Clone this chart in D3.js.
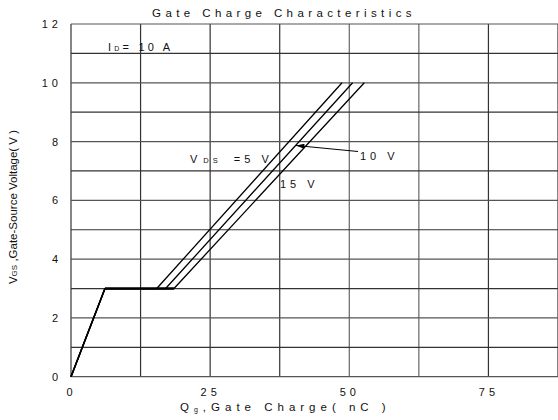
<!DOCTYPE html>
<html>
<head>
<meta charset="utf-8">
<script src="https://cdn.jsdelivr.net/npm/d3@7"></script>
<style>
  body { margin: 0; background: #fff; }
  text { font-family: "Liberation Sans", Arial, sans-serif; fill: #111; }
</style>
</head>
<body>
<div id="chart"></div>
<script>
// data (Qg in nC, VGS in V)
var xTicks = [0, 25, 50, 75];
var yTicks = [0, 2, 4, 6, 8, 10, 12];
var seriesNames = ["5V", "10V", "15V"];
var riseQ = [0, 6.1];
var riseV = [0, 3];
var plateauEndQ = [15.4, 17.0, 18.5];
var topQ = [48.7, 50.6, 52.7];
var topV = 10;

var svgWidth = 558, svgHeight = 420;
var svg = d3.select("#chart").append("svg")
  .attr("width", svgWidth)
  .attr("height", svgHeight);

var x = d3.scaleLinear().domain([0, 87.5]).range([71, 558]);
var y = d3.scaleLinear().domain([0, 12]).range([376.7, 24]);

// grid
var grid = svg.append("g");
grid.selectAll("line.v")
  .data(d3.range(0, 88, 12.5))
  .enter().append("line")
  .attr("x1", d => x(d)).attr("x2", d => x(d))
  .attr("y1", y(0)).attr("y2", y(12))
  .attr("stroke", (d, i) => (i == 4 || i == 5) ? "#666" : "#333")
  .attr("stroke-width", 1.2);
grid.selectAll("line.h")
  .data(d3.range(0, 13, 1))
  .enter().append("line")
  .attr("x1", x(0)).attr("x2", x(87.5))
  .attr("y1", d => y(d)).attr("y2", d => y(d))
  .attr("stroke", d => d % 2 == 0 ? "#555" : "#333")
  .attr("stroke-width", 1.2);

// axes (labels only)
var xAxis = svg.append("g")
  .attr("transform", `translate(0, ${y(0)})`)
  .call(d3.axisBottom(x).tickValues(xTicks).tickSize(0).tickPadding(12));
var yAxis = svg.append("g")
  .attr("transform", `translate(${x(0)}, 0)`)
  .call(d3.axisLeft(y).tickValues(yTicks).tickSize(0).tickPadding(9));
[xAxis, yAxis].forEach(function(a) {
  a.select(".domain").remove();
  a.selectAll("text")
    .attr("font-family", "Liberation Sans, Arial, sans-serif")
    .attr("font-size", 11)
    .attr("fill", "#111")
    .style("letter-spacing", "4px");
});

// curves
var line = d3.line().x(d => x(d[0])).y(d => y(d[1]));
seriesNames.forEach(function(name, i) {
  var pts = [[riseQ[0], riseV[0]], [riseQ[1], riseV[1]], [plateauEndQ[i], riseV[1]], [topQ[i], topV]];
  svg.append("path")
    .attr("d", line(pts))
    .attr("fill", "none")
    .attr("stroke", "#000")
    .attr("stroke-width", 1.3);
});
// thick shared plateau
svg.append("path")
  .attr("d", line([[riseQ[1], riseV[1]], [d3.max(plateauEndQ), riseV[1]]]))
  .attr("stroke", "#000")
  .attr("stroke-width", 2.6);
svg.append("path")
  .attr("d", line([[riseQ[0], riseV[0]], [riseQ[1], riseV[1]]]))
  .attr("stroke", "#000")
  .attr("stroke-width", 1.6);

// arrow for 10V label
svg.append("defs").append("marker")
  .attr("id", "arr")
  .attr("viewBox", "0 0 10 6")
  .attr("refX", 10).attr("refY", 3)
  .attr("markerWidth", 14).attr("markerHeight", 5)
  .attr("markerUnits", "userSpaceOnUse")
  .attr("orient", "auto")
  .append("path").attr("d", "M0,0 L10,3 L0,6 Z").attr("fill", "#000");
svg.append("line")
  .attr("x1", 358).attr("y1", 151.5)
  .attr("x2", 296).attr("y2", 145.5)
  .attr("stroke", "#000")
  .attr("stroke-width", 1)
  .attr("marker-end", "url(#arr)");

// texts
function spaced(sel, size, ls) {
  return sel.attr("font-size", size).style("letter-spacing", ls + "px");
}
spaced(svg.append("text").attr("x", 284).attr("y", 17).attr("text-anchor", "middle"), 11.5, 4.4)
  .text("Gate Charge Characteristics");

var id = spaced(svg.append("text").attr("x", 108).attr("y", 51), 11, 3.2);
id.append("tspan").text("I");
id.append("tspan").attr("font-size", 7).text("D");
id.append("tspan").text("= 10 A");

var vds = spaced(svg.append("text").attr("x", 190).attr("y", 163), 11, 4);
vds.append("tspan").text("V");
vds.append("tspan").attr("font-size", 7.5).attr("dx", 2).text("DS");
vds.append("tspan").attr("dx", 5).text(" =5 V");

spaced(svg.append("text").attr("x", 360).attr("y", 160), 11, 4).text("10 V");
spaced(svg.append("text").attr("x", 280).attr("y", 188), 11, 4).text("15 V");

var xl = spaced(svg.append("text").attr("x", 180).attr("y", 411), 11.5, 5);
xl.append("tspan").text("Q");
xl.append("tspan").attr("font-size", 7).attr("dy", 1).text("g");
xl.append("tspan").attr("dy", -1).text(",Gate Charge( nC  )");

var yl = svg.append("text")
  .attr("transform", "translate(17, 207) rotate(-90)")
  .attr("text-anchor", "middle")
  .attr("font-size", 11.5);
yl.append("tspan").text("V");
yl.append("tspan").attr("font-size", 8).text("GS");
yl.append("tspan").text(" ,Gate-Source Voltage( V )");
</script>
</body>
</html>
